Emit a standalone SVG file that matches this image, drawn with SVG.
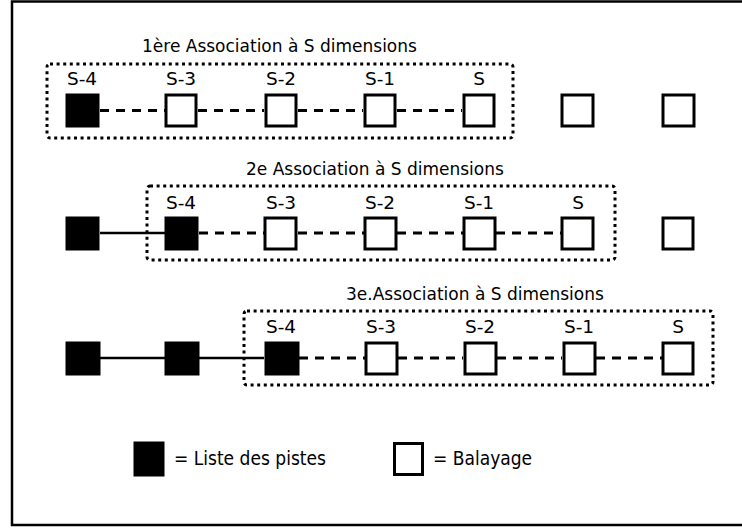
<svg xmlns="http://www.w3.org/2000/svg" width="742" height="528" viewBox="0 0 742 528">
  <style>
    .title { font-family: "DejaVu Sans", "Liberation Sans", sans-serif; font-size: 17px; fill: #000; }
    .lbl { font-family: "DejaVu Sans", "Liberation Sans", sans-serif; font-size: 18.5px; fill: #000; text-anchor: middle; }
    .legend { font-family: "DejaVu Sans Condensed", "DejaVu Sans", sans-serif; font-size: 19px; fill: #000; }
    .track { fill: #000; stroke: #000; stroke-width: 1; }
    .scan { fill: #fff; stroke: #000; stroke-width: 3; }
    .group { fill: none; stroke: #000; stroke-width: 3; stroke-dasharray: 3 3.6; }
    .dash { stroke: #000; stroke-width: 3; stroke-dasharray: 9 7; fill: none; }
    .solid { stroke: #000; stroke-width: 2.5; fill: none; }
  </style>

  <rect x="0" y="0" width="742" height="528" fill="#fff"/>
  <!-- outer frame (open on the right) -->
  <path d="M742 1.5 H12 V525 H742" fill="none" stroke="#000" stroke-width="2.5"/>

  <!-- group outlines -->
  <g id="groups">
    <rect class="group" x="47" y="64" width="466" height="74" rx="3"/>
    <rect class="group" x="147" y="186" width="468" height="74" rx="3"/>
    <rect class="group" x="244" y="311" width="469" height="74" rx="3"/>
  </g>

  <!-- connectors -->
  <g id="connectors">
    <path class="dash" d="M100 110.5 H165 M198 110.5 H264 M298 110.5 H363 M397 110.5 H462"/>
    <path class="solid" d="M100 233 H165"/>
    <path class="dash" d="M199 233 H264 M298 233 H364 M397 233 H463 M496 233 H561"/>
    <path class="solid" d="M100 358 H165 M199 358 H264"/>
    <path class="dash" d="M299 358 H365 M398 358 H463 M497 358 H562 M596 358 H662"/>
  </g>

  <!-- row 1 -->
  <g id="row1">
    <text class="title" x="142" y="52">1ère Association à S dimensions</text>
    <g id="r1-s4"><rect class="track" x="66" y="94" width="33" height="33"/><text class="lbl" x="82" y="85">S-4</text></g>
    <g id="r1-s3"><rect class="scan" x="166" y="95" width="30" height="31"/><text class="lbl" x="181" y="85">S-3</text></g>
    <g id="r1-s2"><rect class="scan" x="266" y="95" width="30" height="31"/><text class="lbl" x="281" y="85">S-2</text></g>
    <g id="r1-s1"><rect class="scan" x="365" y="95" width="30" height="31"/><text class="lbl" x="380" y="85">S-1</text></g>
    <g id="r1-s"><rect class="scan" x="464" y="95" width="30" height="31"/><text class="lbl" x="479" y="85">S</text></g>
    <g id="r1-x1"><rect class="scan" x="562" y="95" width="31" height="31"/></g>
    <g id="r1-x2"><rect class="scan" x="663" y="95" width="31" height="31"/></g>
  </g>

  <!-- row 2 -->
  <g id="row2">
    <text class="title" x="246" y="175">2e Association à S dimensions</text>
    <g id="r2-t1"><rect class="track" x="66" y="217" width="33" height="33"/></g>
    <g id="r2-s4"><rect class="track" x="165" y="217" width="33" height="33"/><text class="lbl" x="181" y="209">S-4</text></g>
    <g id="r2-s3"><rect class="scan" x="265" y="218" width="31" height="31"/><text class="lbl" x="281" y="209">S-3</text></g>
    <g id="r2-s2"><rect class="scan" x="365" y="218" width="31" height="31"/><text class="lbl" x="380" y="209">S-2</text></g>
    <g id="r2-s1"><rect class="scan" x="464" y="218" width="31" height="31"/><text class="lbl" x="479" y="209">S-1</text></g>
    <g id="r2-s"><rect class="scan" x="562" y="218" width="31" height="31"/><text class="lbl" x="578" y="209">S</text></g>
    <g id="r2-x1"><rect class="scan" x="663" y="218" width="30" height="31"/></g>
  </g>

  <!-- row 3 -->
  <g id="row3">
    <text class="title" x="346" y="300">3e.Association à S dimensions</text>
    <g id="r3-t1"><rect class="track" x="66" y="342" width="34" height="33"/></g>
    <g id="r3-t2"><rect class="track" x="165" y="342" width="34" height="33"/></g>
    <g id="r3-s4"><rect class="track" x="265" y="342" width="34" height="33"/><text class="lbl" x="281" y="333">S-4</text></g>
    <g id="r3-s3"><rect class="scan" x="366" y="343" width="31" height="31"/><text class="lbl" x="381" y="333">S-3</text></g>
    <g id="r3-s2"><rect class="scan" x="465" y="343" width="31" height="31"/><text class="lbl" x="480" y="333">S-2</text></g>
    <g id="r3-s1"><rect class="scan" x="564" y="343" width="31" height="31"/><text class="lbl" x="579" y="333">S-1</text></g>
    <g id="r3-s"><rect class="scan" x="663" y="343" width="30" height="31"/><text class="lbl" x="678" y="333">S</text></g>
  </g>

  <!-- legend -->
  <g id="legend-track">
    <rect class="track" x="134" y="442" width="30" height="34"/>
    <text class="legend" x="174" y="465">= Liste des pistes</text>
  </g>
  <g id="legend-scan">
    <rect class="scan" x="394.5" y="443.5" width="28" height="31"/>
    <text class="legend" x="433" y="465">= Balayage</text>
  </g>
</svg>
